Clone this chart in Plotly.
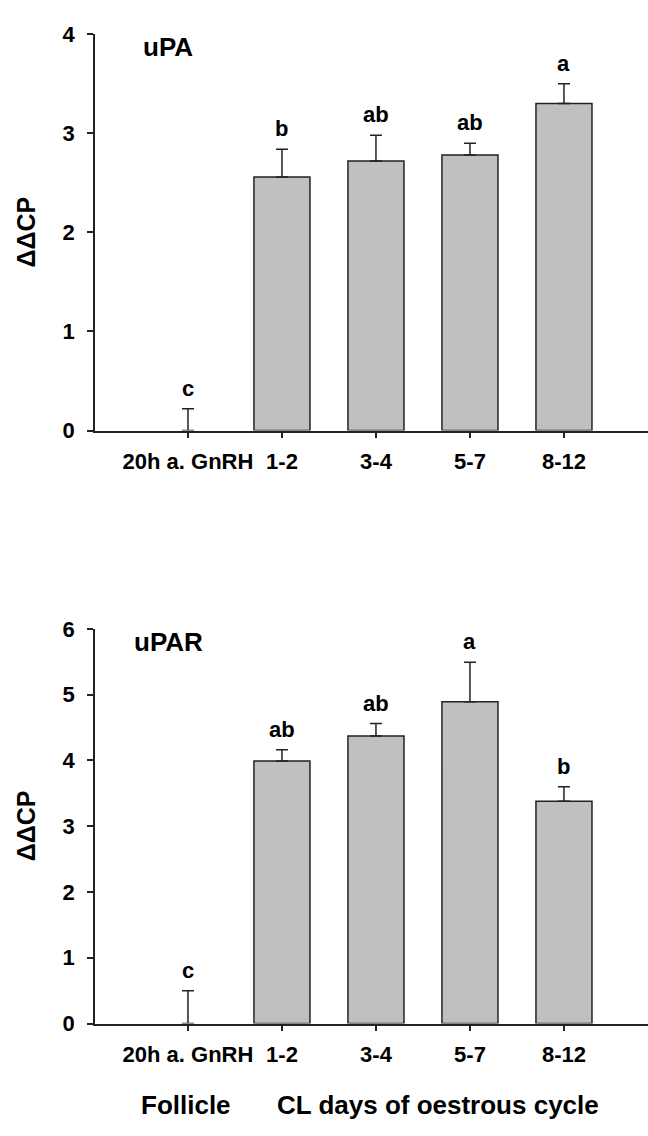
import plotly.graph_objects as go

categories = ["20h a. GnRH", "1-2", "3-4", "5-7", "8-12"]

upa_values = [0.0, 2.56, 2.72, 2.78, 3.30]
upa_errors = [0.22, 0.28, 0.26, 0.12, 0.20]
upa_letters = ["c", "b", "ab", "ab", "a"]

upar_values = [0.0, 3.99, 4.37, 4.89, 3.38]
upar_errors = [0.50, 0.17, 0.19, 0.60, 0.22]
upar_letters = ["c", "ab", "ab", "a", "b"]

panel_names = ["uPA", "uPAR"]
y_title = "ΔΔCP"
group_labels = ["Follicle", "CL days of oestrous cycle"]

FONT = "Liberation Sans, Arial, sans-serif"
W, H = 648, 1136
BAR_FILL = "#c0c0c0"
LINE = "#222222"

fig = go.Figure()

panels = [
    (upa_values, upa_errors, upa_letters, "x", "y", [0, 4], [1 - 428 / H, 1 - 22.7 / H]),
    (upar_values, upar_errors, upar_letters, "x2", "y2", [0, 6], [1 - 1034.3 / H, 1 - 630.7 / H]),
]

layout = dict(
    width=W, height=H,
    margin=dict(l=0, r=0, t=0, b=0),
    paper_bgcolor="white", plot_bgcolor="white",
    showlegend=False, bargap=0.404,
    font=dict(family=FONT, size=22, color="black", weight="bold"),
)

annotations = []
xpos = list(range(len(categories)))
for i, (vals, errs, letters, xa, ya, yrange, ydom) in enumerate(panels):
    fig.add_trace(go.Bar(
        x=xpos, y=vals, xaxis=xa, yaxis=ya,
        marker=dict(color=BAR_FILL,
                    line=dict(color=LINE, width=[1.5 if v > 0 else 0 for v in vals])),
        error_y=dict(type="data", symmetric=False, array=errs,
                     arrayminus=[0] * len(errs), color=LINE, thickness=1.5, width=6),
    ))
    xkey = "xaxis" if i == 0 else "xaxis2"
    ykey = "yaxis" if i == 0 else "yaxis2"
    layout[xkey] = dict(
        domain=[95 / W, 1.0], range=[-0.989, 4.894],
        tickmode="array", tickvals=xpos, ticktext=categories,
        ticks="outside", ticklen=6, tickwidth=1.5, tickcolor=LINE,
        showline=True, linecolor=LINE, linewidth=1.5,
        showgrid=False, zeroline=False, anchor="y" if i == 0 else "y2",
        tickfont=dict(family=FONT, size=22, color="black", weight="bold"),
        ticklabelstandoff=4,
    )
    layout[ykey] = dict(
        domain=ydom, range=yrange, dtick=1,
        ticks="outside", ticklen=6, tickwidth=1.5, tickcolor=LINE,
        showline=True, linecolor=LINE, linewidth=1.5,
        showgrid=False, zeroline=False, anchor="x" if i == 0 else "x2",
        tickfont=dict(family=FONT, size=22, color="black", weight="bold"),
        ticklabelstandoff=8,
    )
    for j in range(len(categories)):
        annotations.append(dict(
            x=xpos[j], y=vals[j] + errs[j], xref=xa, yref=ya,
            text=letters[j], showarrow=False, yanchor="bottom", yshift=6,
            font=dict(family=FONT, size=22, color="black", weight="bold"),
        ))
    annotations.append(dict(
        x=-0.21, y=yrange[1] * (3.87 / 4), xref=xa, yref=ya,
        text=panel_names[i], showarrow=False,
        font=dict(family=FONT, size=26, color="black", weight="bold"),
    ))
    annotations.append(dict(
        x=26 / W, y=(ydom[0] + ydom[1]) / 2, xref="paper", yref="paper",
        text=y_title, showarrow=False, textangle=-90,
        xanchor="center", yanchor="middle",
        font=dict(family=FONT, size=25, color="black", weight="bold"),
    ))

annotations.append(dict(
    x=186 / W, y=(H - 1118) / H, xref="paper", yref="paper",
    text=group_labels[0], showarrow=False, xanchor="center", yanchor="middle",
    font=dict(family=FONT, size=26, color="black", weight="bold"),
))
annotations.append(dict(
    x=275 / W, y=(H - 1118) / H, xref="paper", yref="paper",
    text=group_labels[1], showarrow=False, xanchor="left", yanchor="middle",
    font=dict(family=FONT, size=26, color="black", weight="bold"),
))

layout["annotations"] = annotations
fig.update_layout(**layout)
fig.write_html(
    "out.html",
    config={"displayModeBar": False},
    post_script="document.body.style.margin='0';document.body.style.overflow='hidden';",
)
